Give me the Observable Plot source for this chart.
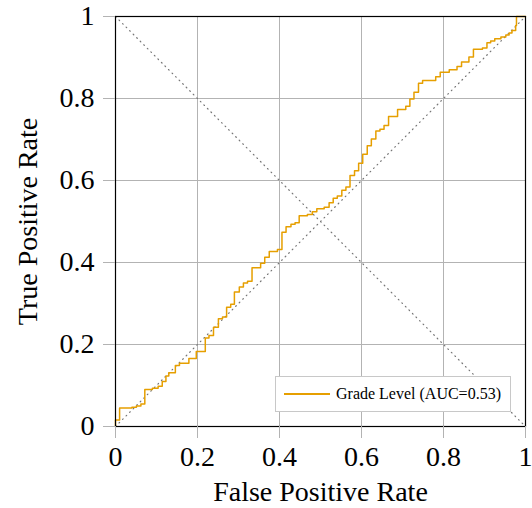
<!DOCTYPE html>
<html>
<head>
<meta charset="utf-8">
<script src="https://cdn.jsdelivr.net/npm/d3@7"></script>
<script src="https://cdn.jsdelivr.net/npm/@observablehq/plot@0.6"></script>
<style>
  html, body { margin: 0; padding: 0; background: #fff; }
  #wrap { position: relative; width: 532px; height: 508px; }
  #legend {
    position: absolute; left: 275px; top: 376px; width: 236px; height: 36px;
    box-sizing: border-box; border: 1px solid #c8c8c8; background: #fff;
    font-family: "Liberation Serif", "DejaVu Serif", serif; font-size: 16px;
    display: flex; align-items: center; white-space: nowrap;
  }
  #legend .swatch { flex: none; width: 46px; height: 1.5px; background: #E69F00; margin: 0 6px 0 8px; }
</style>
</head>
<body>
<div id="wrap"></div>
<script>
// ROC staircase for the "Grade Level" score: false positive rate / true positive rate
const fpr = [0, 0, 0.01, 0.04, 0.051, 0.062, 0.0715, 0.09, 0.104, 0.114, 0.123, 0.13, 0.146, 0.156, 0.179,
  0.197, 0.219, 0.228, 0.239, 0.251, 0.261, 0.271, 0.281, 0.29, 0.302, 0.312, 0.322, 0.333, 0.354, 0.364,
  0.375, 0.395, 0.406, 0.416, 0.428, 0.438, 0.448, 0.468, 0.48, 0.491, 0.509, 0.521, 0.531, 0.541, 0.552,
  0.562, 0.572, 0.583, 0.593, 0.603, 0.614, 0.624, 0.635, 0.645, 0.655, 0.666, 0.688, 0.708, 0.718, 0.728,
  0.739, 0.749, 0.781, 0.792, 0.814, 0.833, 0.844, 0.862, 0.873, 0.895, 0.906, 0.915, 0.925, 0.94, 0.952,
  0.96, 0.967, 0.976, 0.978, 1];
const tpr = [0, 0.016, 0.045, 0.047, 0.05, 0.055, 0.09, 0.093, 0.098, 0.11, 0.123, 0.131, 0.149, 0.154, 0.166,
  0.183, 0.216, 0.222, 0.242, 0.263, 0.267, 0.291, 0.298, 0.328, 0.34, 0.35, 0.354, 0.387, 0.398, 0.413,
  0.427, 0.432, 0.474, 0.487, 0.493, 0.497, 0.514, 0.517, 0.524, 0.531, 0.535, 0.546, 0.557, 0.562, 0.576,
  0.584, 0.612, 0.624, 0.642, 0.664, 0.685, 0.701, 0.721, 0.725, 0.734, 0.756, 0.773, 0.781, 0.799, 0.815,
  0.837, 0.844, 0.853, 0.864, 0.87, 0.878, 0.889, 0.901, 0.92, 0.923, 0.936, 0.94, 0.946, 0.95, 0.955,
  0.96, 0.966, 0.978, 1.0, 1];
const seriesName = "Grade Level";
const auc = 0.53;

// reference diagonals (chance line and its mirror)
const chanceLine = [[0, 0], [1, 1]];
const mirrorLine = [[0, 1], [1, 0]];

const ticks = [0, 0.2, 0.4, 0.6, 0.8, 1];
const tickLabel = d => d === 0 ? "0" : d === 1 ? "1" : String(d);

const roc = fpr.map((x, i) => ({x, y: tpr[i]}));
const serif = "'Liberation Serif', 'DejaVu Serif', serif";

const chart = Plot.plot({
  width: 532,
  height: 508,
  marginLeft: 115,
  marginRight: 7,
  marginTop: 16,
  marginBottom: 82,
  style: {fontFamily: serif, background: "#fff", overflow: "visible"},
  x: {domain: [0, 1]},
  y: {domain: [0, 1]},
  marks: [
    Plot.gridX(ticks, {stroke: "#b3b3b3", strokeOpacity: 1, strokeWidth: 1}),
    Plot.gridY(ticks, {stroke: "#b3b3b3", strokeOpacity: 1, strokeWidth: 1}),
    Plot.line(chanceLine, {x: d => d[0], y: d => d[1], stroke: "#777", strokeWidth: 1.2, strokeDasharray: "0.8,4.2", strokeLinecap: "round"}),
    Plot.line(mirrorLine, {x: d => d[0], y: d => d[1], stroke: "#777", strokeWidth: 1.2, strokeDasharray: "0.8,4.2", strokeLinecap: "round"}),
    Plot.line(roc, {x: "x", y: "y", curve: "step-after", stroke: "#E69F00", strokeWidth: 1.5}),
    Plot.frame({stroke: "#000", strokeWidth: 1.2}),
    Plot.axisX(ticks, {tickSize: 12, tickPadding: 8, stroke: "#b3b3b3", fontSize: 28, tickFormat: tickLabel, label: null, fill: "#000"}),
    Plot.axisY(ticks, {tickSize: 12, tickPadding: 9, stroke: "#b3b3b3", fontSize: 28, tickFormat: tickLabel, label: null, fill: "#000"}),
    Plot.text(["False Positive Rate"], {frameAnchor: "bottom", lineAnchor: "middle", textAnchor: "middle", dy: 66, fontSize: 28, fill: "#000"}),
    Plot.text(["True Positive Rate"], {frameAnchor: "left", lineAnchor: "middle", textAnchor: "middle", dx: -87, rotate: -90, fontSize: 28, fill: "#000"})
  ]
});

const wrap = document.getElementById("wrap");
wrap.appendChild(chart);

const legend = document.createElement("div");
legend.id = "legend";
legend.innerHTML = `<span class="swatch"></span><span>${seriesName} (AUC=${auc.toFixed(2)})</span>`;
wrap.appendChild(legend);
</script>
</body>
</html>
